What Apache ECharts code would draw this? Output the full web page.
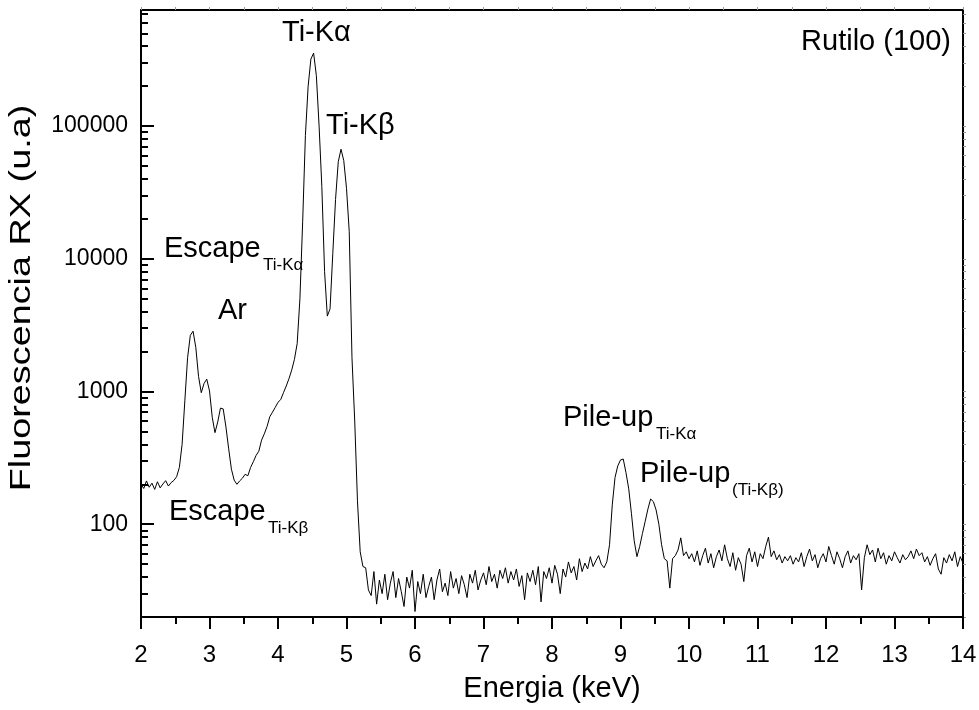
<!DOCTYPE html>
<html>
<head>
<meta charset="utf-8">
<title>Rutilo (100)</title>
<script src="https://cdn.jsdelivr.net/npm/echarts@6/dist/echarts.min.js"></script>
<style>
  html, body { margin: 0; padding: 0; background: #fff; }
  #chart { width: 979px; height: 710px; }
</style>
</head>
<body>
<div id="chart"></div>
<script>
// energia (keV), un canal cada 0.04 keV
const energy = [
  2.00,2.04,2.08,2.12,2.16,2.20,2.24,2.28,2.32,2.36,2.40,2.44,2.48,2.52,2.56,2.60,2.64,2.68,2.72,2.76,2.80,2.84,2.88,2.92,2.96,
  3.00,3.04,3.08,3.12,3.16,3.20,3.24,3.28,3.32,3.36,3.40,3.44,3.48,3.52,3.56,3.60,3.64,3.68,3.72,3.76,3.80,3.84,3.88,3.92,3.96,
  4.00,4.04,4.08,4.12,4.16,4.20,4.24,4.28,4.32,4.36,4.40,4.44,4.48,4.52,4.56,4.60,4.64,4.68,4.72,4.76,4.80,4.84,4.88,4.92,4.96,
  5.00,5.04,5.08,5.12,5.16,5.20,5.24,5.28,5.32,5.36,5.40,5.44,5.48,5.52,5.56,5.60,5.64,5.68,5.72,5.76,5.80,5.84,5.88,5.92,5.96,
  6.00,6.04,6.08,6.12,6.16,6.20,6.24,6.28,6.32,6.36,6.40,6.44,6.48,6.52,6.56,6.60,6.64,6.68,6.72,6.76,6.80,6.84,6.88,6.92,6.96,
  7.00,7.04,7.08,7.12,7.16,7.20,7.24,7.28,7.32,7.36,7.40,7.44,7.48,7.52,7.56,7.60,7.64,7.68,7.72,7.76,7.80,7.84,7.88,7.92,7.96,
  8.00,8.04,8.08,8.12,8.16,8.20,8.24,8.28,8.32,8.36,8.40,8.44,8.48,8.52,8.56,8.60,8.64,8.68,8.72,8.76,8.80,8.84,8.88,8.92,8.96,
  9.00,9.04,9.08,9.12,9.16,9.20,9.24,9.28,9.32,9.36,9.40,9.44,9.48,9.52,9.56,9.60,9.64,9.68,9.72,9.76,9.80,9.84,9.88,9.92,9.96,
  10.00,10.04,10.08,10.12,10.16,10.20,10.24,10.28,10.32,10.36,10.40,10.44,10.48,10.52,10.56,10.60,10.64,10.68,10.72,10.76,10.80,10.84,10.88,10.92,10.96,
  11.00,11.04,11.08,11.12,11.16,11.20,11.24,11.28,11.32,11.36,11.40,11.44,11.48,11.52,11.56,11.60,11.64,11.68,11.72,11.76,11.80,11.84,11.88,11.92,11.96,
  12.00,12.04,12.08,12.12,12.16,12.20,12.24,12.28,12.32,12.36,12.40,12.44,12.48,12.52,12.56,12.60,12.64,12.68,12.72,12.76,12.80,12.84,12.88,12.92,12.96,
  13.00,13.04,13.08,13.12,13.16,13.20,13.24,13.28,13.32,13.36,13.40,13.44,13.48,13.52,13.56,13.60,13.64,13.68,13.72,13.76,13.80,13.84,13.88,13.92,13.96,
  14.00
];

const counts = [
  200,186,212,190,204,183,209,188,201,213,194,206,214,228,268,400,850,1800,2650,2850,2150,1300,980,1150,1240,
  1010,640,490,590,750,740,540,370,260,215,200,212,222,238,232,268,296,330,355,430,480,545,645,700,760,
  830,870,980,1100,1250,1450,1750,2300,5000,19000,85000,200000,320000,355000,240000,100000,35000,8000,3700,4200,11000,28000,54000,67000,55000,
  34000,16000,1800,600,150,62,48,47,32,29,44,25,38,30,42,27,36,44,28,39,31,24,40,33,45,
  22,37,30,42,28,34,40,27,38,46,31,36,29,44,33,39,30,41,35,28,42,36,45,32,38,
  43,35,48,37,42,33,45,39,47,36,44,38,46,34,41,27,43,37,45,35,48,26,44,39,47,
  36,49,42,30,46,40,52,43,48,38,55,44,51,46,57,48,53,58,50,47,52,70,140,225,275,
  305,310,245,185,120,75,57,68,85,105,130,155,148,128,100,70,55,53,33,55,58,64,79,58,62,
  55,60,52,63,49,58,66,51,60,47,57,64,53,70,55,48,61,45,56,50,37,58,66,52,62,
  48,60,55,68,80,57,63,54,59,51,57,53,58,50,56,52,61,48,57,65,53,59,47,55,60,
  52,68,58,50,62,55,47,57,63,51,58,54,60,32,56,70,59,64,52,66,55,61,50,58,53,
  62,56,51,59,54,57,63,55,65,58,61,52,57,49,55,60,46,42,56,51,59,53,62,48,57,
  51
];

const xTicks = [2, 3, 4, 5, 6, 7, 8, 9, 10, 11, 12, 13, 14];
const yMajor = [100, 1000, 10000, 100000];
const yMinor = [20, 30, 40, 50, 60, 70, 80, 90, 200, 300, 400, 500, 600, 700, 800, 900,
  2000, 3000, 4000, 5000, 6000, 7000, 8000, 9000, 20000, 30000, 40000, 50000, 60000, 70000, 80000, 90000,
  200000, 300000, 400000, 500000, 600000, 700000];
const yMin = 20;
const yMax = 750000;

if (energy.length !== counts.length) {
  throw new Error('energy/counts length mismatch: ' + energy.length + ' vs ' + counts.length);
}

const FONT = '"Liberation Sans", Arial, sans-serif';

const chart = echarts.init(document.getElementById('chart'));

// texto con subindice (etiquetas de los picos)
const label = (main, sub, x, y) => {
  const els = [{
    type: 'text', left: x, top: y,
    style: { text: main, font: '29px ' + FONT, fill: '#000' }
  }];
  if (sub) {
    els.push({
      type: 'text', left: x + sub.dx, top: y + 23,
      style: { text: sub.text, font: '17px ' + FONT, fill: '#000' }
    });
  }
  return els;
};

const log10 = v => Math.log10(v);

const option = {
  animation: false,
  backgroundColor: '#fff',
  textStyle: { fontFamily: FONT },
  grid: { left: 141, right: 16, top: 10, bottom: 93, containLabel: false, outerBoundsMode: 'none' },
  xAxis: [
    {
      type: 'value', position: 'bottom', min: 2, max: 14, interval: 1,
      name: 'Energia (keV)', nameLocation: 'middle', nameGap: 57,
      nameTextStyle: { fontSize: 29, color: '#000', fontFamily: FONT },
      axisLine: { show: true, lineStyle: { color: '#000', width: 2 } },
      axisTick: { show: true, inside: false, length: 12, lineStyle: { color: '#000', width: 2 } },
      minorTick: { show: true, splitNumber: 2, length: 7, lineStyle: { color: '#000', width: 2 } },
      axisLabel: {
        margin: 26, fontSize: 24, color: '#000', fontFamily: FONT,
        customValues: xTicks
      },
      splitLine: { show: false }
    },
    {
      type: 'value', position: 'top', min: 2, max: 14, interval: 0.5,
      axisLine: { show: true, lineStyle: { color: '#000', width: 2 } },
      axisTick: { show: true, inside: false, length: 3, lineStyle: { color: '#999', width: 1 } },
      axisLabel: { show: false },
      splitLine: { show: false }
    }
  ],
  yAxis: [
    {
      type: 'log', logBase: 10, position: 'left', min: yMin, max: yMax,
      axisLine: { show: true, lineStyle: { color: '#000', width: 2 } },
      axisTick: { show: true, inside: true, length: 13, lineStyle: { color: '#000', width: 2 } },
      axisLabel: {
        margin: 13, fontSize: 23, color: '#000', fontFamily: FONT,
        showMinLabel: false, showMaxLabel: false,
        formatter: v => {
          const l = Math.log10(v);
          return Math.abs(l - Math.round(l)) < 1e-6 && yMajor.includes(Math.round(v)) ? String(Math.round(v)) : '';
        }
      },
      splitLine: { show: false }
    },
    {
      // subdivisiones menores del eje logaritmico (en unidades log10)
      type: 'value', position: 'left', min: log10(yMin), max: log10(yMax),
      axisLine: { show: false },
      axisTick: { show: true, inside: true, length: 7, customValues: yMinor.map(log10), lineStyle: { color: '#000', width: 2 } },
      axisLabel: { show: false },
      splitLine: { show: false }
    },
    {
      type: 'value', position: 'right', min: log10(yMin), max: log10(yMax),
      axisLine: { show: true, lineStyle: { color: '#000', width: 2 } },
      axisTick: { show: true, inside: false, length: 3, customValues: yMajor.concat(yMinor).map(log10), lineStyle: { color: '#999', width: 1 } },
      axisLabel: { show: false },
      splitLine: { show: false }
    }
  ],
  series: [
    {
      type: 'line',
      xAxisIndex: 0,
      yAxisIndex: 0,
      showSymbol: false,
      symbol: 'none',
      lineStyle: { color: '#000', width: 1 },
      data: energy.map((e, i) => [e, counts[i]])
    }
  ],
  graphic: [
    // titulo del eje Y (estirado como en el original)
    {
      type: 'text', x: 22, y: 298, rotation: Math.PI / 2, scaleX: 1.26,
      style: { text: 'Fluorescencia RX (u.a)', font: '30px ' + FONT, fill: '#000', align: 'center', verticalAlign: 'middle' }
    },
    ...label('Ti-K\u03b1', null, 282, 18),
    ...label('Ti-K\u03b2', null, 326, 111),
    ...label('Escape', { text: 'Ti-K\u03b1', dx: 99 }, 164, 234),
    ...label('Ar', null, 218, 296),
    ...label('Escape', { text: 'Ti-K\u03b2', dx: 99 }, 169, 497),
    ...label('Pile-up', { text: 'Ti-K\u03b1', dx: 93 }, 563, 403),
    ...label('Pile-up', { text: '(Ti-K\u03b2)', dx: 92 }, 640, 459),
    { type: 'text', right: 28, top: 27, style: { text: 'Rutilo (100)', font: '29px ' + FONT, fill: '#000' } }
  ]
};

chart.setOption(option);
</script>
</body>
</html>
